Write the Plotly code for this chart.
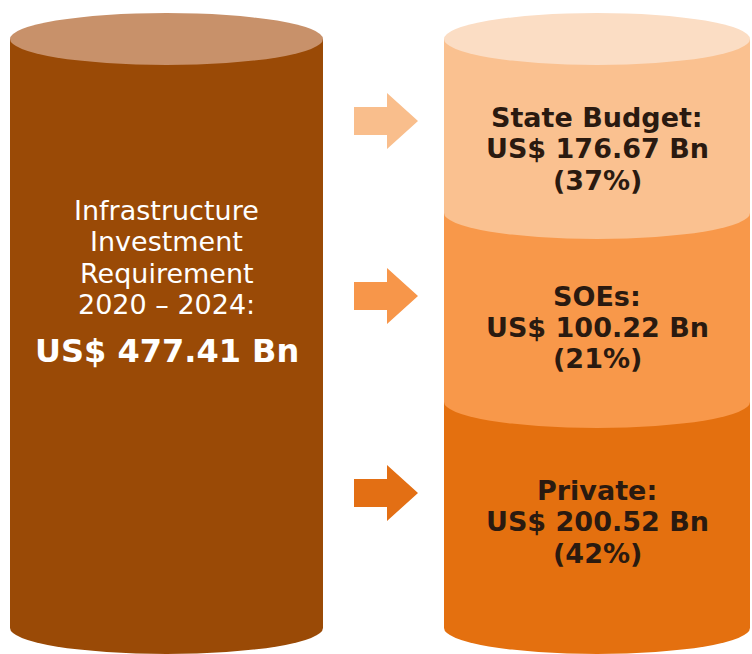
import plotly.graph_objects as go

# ---- data ----
segments = ["State Budget", "SOEs", "Private"]
amounts_bn = [176.67, 100.22, 200.52]
shares_pct = [37, 21, 42]
total_bn = 477.41
title_lines = ["Infrastructure", "Investment", "Requirement", "2020 \u2013 2024:"]

# ---- layout geometry (pixels in the 752x654 window) ----
W, H = 752, 654
L_X0, L_X1 = 10, 323
R_X0, R_X1 = 444, 750
RY = 26
TOP_C = 39
BOT_C = 628
R_BOUNDS = [TOP_C, 213, 402, BOT_C]   # segment boundaries (ellipse centres)
ARROW_Y = [121, 296, 493]

LEFT_BODY = "#9A4A06"
LEFT_TOP = "#C8916A"
RIGHT_TOP = "#FBDDC4"
SEG_COLORS = ["#FAC190", "#F8984A", "#E4700F"]
ARROW_COLORS = ["#F9BE8C", "#F7964A", "#E36F14"]

shapes = []

def ellipse(x0, x1, cy, color):
    return dict(type="circle", xref="x", yref="y", x0=x0, x1=x1,
                y0=cy - RY, y1=cy + RY, fillcolor=color, line=dict(width=0),
                layer="below")

def rect(x0, x1, y0, y1, color):
    return dict(type="rect", xref="x", yref="y", x0=x0, x1=x1, y0=y0, y1=y1,
                fillcolor=color, line=dict(width=0), layer="below")

# left cylinder
shapes.append(ellipse(L_X0, L_X1, BOT_C, LEFT_BODY))
shapes.append(rect(L_X0, L_X1, TOP_C, BOT_C, LEFT_BODY))
shapes.append(ellipse(L_X0, L_X1, TOP_C, LEFT_TOP))

# right cylinder, drawn bottom-up
for i in reversed(range(len(segments))):
    y_top, y_bot = R_BOUNDS[i], R_BOUNDS[i + 1]
    shapes.append(ellipse(R_X0, R_X1, y_bot, SEG_COLORS[i]))
    shapes.append(rect(R_X0, R_X1, y_top, y_bot, SEG_COLORS[i]))
shapes.append(ellipse(R_X0, R_X1, TOP_C, RIGHT_TOP))

# arrows
AX0, AXH, AX1 = 354, 387, 418
for cy, col in zip(ARROW_Y, ARROW_COLORS):
    p = (f"M {AX0},{cy-14} L {AXH},{cy-14} L {AXH},{cy-28} L {AX1},{cy} "
         f"L {AXH},{cy+28} L {AXH},{cy+14} L {AX0},{cy+14} Z")
    shapes.append(dict(type="path", xref="x", yref="y", path=p,
                       fillcolor=col, line=dict(width=0), layer="below"))

annotations = []
LEFT_CX = (L_X0 + L_X1) / 2
RIGHT_CX = (R_X0 + R_X1) / 2
left_font = dict(family="DejaVu Sans", size=27, color="white")
for txt, y in zip(title_lines, [210, 241.5, 273, 304.5]):
    annotations.append(dict(x=LEFT_CX, y=y, xref="x", yref="y", text=txt,
                            showarrow=False, font=left_font,
                            xanchor="center", yanchor="middle"))
annotations.append(dict(x=LEFT_CX, y=351, xref="x", yref="y",
                        text=f"<b>US$ {total_bn:.2f} Bn</b>", showarrow=False,
                        font=dict(family="DejaVu Sans", size=32, color="white"),
                        xanchor="center", yanchor="middle"))

text_y = [[117, 148, 180], [296, 327, 358], [490, 521, 553]]
right_font = dict(family="DejaVu Sans", size=27, color="#2A1A10")
for name, amt, pct, ys in zip(segments, amounts_bn, shares_pct, text_y):
    for txt, y in zip([f"{name}:", f"US$ {amt:.2f} Bn", f"({pct}%)"], ys):
        annotations.append(dict(x=RIGHT_CX, y=y, xref="x", yref="y",
                                text=f"<b>{txt}</b>", showarrow=False,
                                font=right_font, xanchor="center",
                                yanchor="middle"))

fig = go.Figure()
fig.add_trace(go.Scatter(x=[0, W], y=[0, H], mode="markers",
                         marker=dict(opacity=0), hoverinfo="skip",
                         showlegend=False))
fig.update_layout(
    width=W, height=H, margin=dict(l=0, r=0, t=0, b=0),
    paper_bgcolor="white", plot_bgcolor="white",
    xaxis=dict(range=[0, W], visible=False, fixedrange=True),
    yaxis=dict(range=[H, 0], visible=False, fixedrange=True),
    shapes=shapes, annotations=annotations, showlegend=False,
)
fig.write_html("out.html", config={"displayModeBar": False},
               post_script="document.body.style.margin='0';"
                           "document.body.style.overflow='hidden';")
